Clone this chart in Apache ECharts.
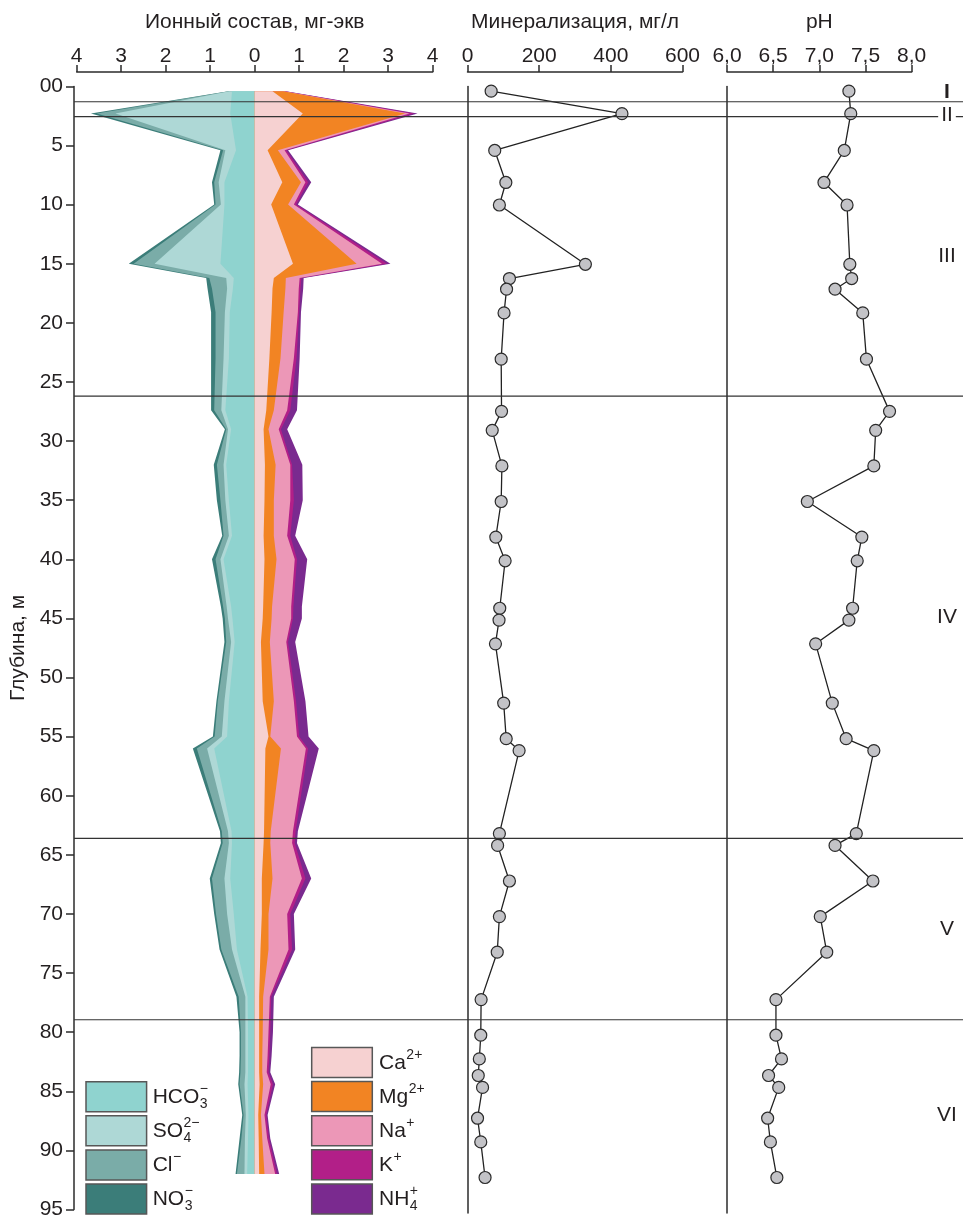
<!DOCTYPE html>
<html>
<head>
<meta charset="utf-8">
<script src="https://cdn.jsdelivr.net/npm/echarts@6/dist/echarts.min.js"></script>
<style>
  html, body { margin: 0; padding: 0; background: #ffffff; }
  #chart { width: 963px; height: 1220px; }
</style>
</head>
<body>
<div id="chart"></div>
<script>
// Sampling depths, m
const depth = [0.4, 2.3, 5.4, 8.1, 10, 15, 16.2, 17.1, 19.1, 23, 27.4, 29, 32, 35, 38, 40, 44, 45, 47, 52,
               55, 56, 63, 64, 67, 70, 73, 77, 80, 82, 83.4, 84.4, 87, 89, 92];

// Total mineralization, mg/L
const mineralization = [66, 431, 76, 107, 89, 329, 117, 109, 102, 94, 95, 69, 96, 94, 79, 105, 90, 88, 78, 101,
                        108, 144, 89, 84, 117, 89, 83, 38, 37, 33, 30, 42, 28, 37, 49];

// pH
const pH = [7.32, 7.34, 7.27, 7.05, 7.30, 7.33, 7.35, 7.17, 7.47, 7.51, 7.76, 7.61, 7.59, 6.87, 7.46, 7.41, 7.36, 7.32, 6.96, 7.14,
            7.29, 7.59, 7.40, 7.17, 7.58, 7.01, 7.08, 6.53, 6.53, 6.59, 6.45, 6.56, 6.44, 6.47, 6.54];

// Anions, mg-eq
const hco3 = [0.51, 0.55, 0.42, 0.68, 0.68, 0.77, 0.47, 0.49, 0.56, 0.58, 0.66, 0.53, 0.64, 0.58, 0.51, 0.70, 0.53, 0.50, 0.45, 0.58,
              0.62, 0.91, 0.52, 0.51, 0.55, 0.47, 0.40, 0.16, 0.15, 0.15, 0.15, 0.16, 0.14, 0.15, 0.17];
const so4  = [0.06, 2.58, 0.24, 0.13, 0.08, 1.48, 0.17, 0.13, 0.11, 0.12, 0.09, 0.07, 0.06, 0.08, 0.07, 0.07, 0.10, 0.10, 0.08, 0.10,
              0.12, 0.16, 0.08, 0.07, 0.13, 0.15, 0.11, 0.05, 0.06, 0.06, 0.06, 0.07, 0.06, 0.07, 0.06];
const cl   = [0.01, 0.42, 0.05, 0.10, 0.12, 0.47, 0.38, 0.34, 0.21, 0.18, 0.16, 0.04, 0.15, 0.11, 0.12, 0.11, 0.08, 0.07, 0.11, 0.15,
              0.16, 0.23, 0.14, 0.14, 0.28, 0.25, 0.24, 0.15, 0.10, 0.10, 0.11, 0.11, 0.05, 0.08, 0.17];
const no3  = [0.01, 0.13, 0.06, 0.05, 0.03, 0.11, 0.07, 0.10, 0.10, 0.10, 0.07, 0.03, 0.07, 0.08, 0.03, 0.08, 0.05, 0.05, 0.04, 0.03,
              0.04, 0.09, 0.04, 0.04, 0.05, 0.04, 0.04, 0.05, 0.03, 0.03, 0.03, 0.03, 0.03, 0.04, 0.03];

// Cations, mg-eq
const ca   = [0.40, 1.08, 0.29, 0.62, 0.37, 0.86, 0.43, 0.40, 0.38, 0.33, 0.26, 0.20, 0.23, 0.22, 0.20, 0.22, 0.19, 0.18, 0.14, 0.18,
              0.31, 0.24, 0.21, 0.20, 0.16, 0.16, 0.13, 0.10, 0.10, 0.10, 0.10, 0.11, 0.08, 0.09, 0.10];
const mg   = [0.24, 2.30, 0.23, 0.42, 0.38, 1.43, 0.27, 0.29, 0.27, 0.25, 0.17, 0.11, 0.24, 0.21, 0.23, 0.27, 0.20, 0.20, 0.20, 0.25,
              0.04, 0.35, 0.15, 0.15, 0.24, 0.15, 0.18, 0.09, 0.08, 0.07, 0.07, 0.08, 0.06, 0.08, 0.12];
const na   = [0.02, 0.10, 0.15, 0.10, 0.13, 0.57, 0.31, 0.30, 0.32, 0.30, 0.30, 0.23, 0.33, 0.37, 0.30, 0.41, 0.43, 0.44, 0.37, 0.45,
              0.60, 0.56, 0.50, 0.49, 0.66, 0.42, 0.45, 0.15, 0.13, 0.12, 0.10, 0.17, 0.08, 0.11, 0.24];
const k    = [0.02, 0.10, 0.04, 0.06, 0.05, 0.11, 0.04, 0.04, 0.03, 0.06, 0.07, 0.05, 0.04, 0.08, 0.07, 0.05, 0.05, 0.04, 0.04, 0.05,
              0.05, 0.05, 0.06, 0.06, 0.08, 0.07, 0.08, 0.03, 0.04, 0.04, 0.04, 0.05, 0.04, 0.04, 0.04];
const nh4  = [0.02, 0.08, 0.04, 0.07, 0.04, 0.08, 0.05, 0.06, 0.04, 0.07, 0.15, 0.14, 0.23, 0.20, 0.11, 0.23, 0.19, 0.20, 0.16, 0.21,
              0.21, 0.24, 0.05, 0.05, 0.13, 0.08, 0.07, 0.06, 0.06, 0.05, 0.04, 0.05, 0.03, 0.03, 0.05];

// Hydrochemical zones: boundaries (m), labels and label depths
const zoneBounds = [1.3, 2.55, 26.2, 63.6, 78.95];
const zoneNames = ['I', 'II', 'III', 'IV', 'V', 'VI'];
const zoneLabelDepth = [0.5, 2.45, 14.4, 44.9, 71.3, 87];

const FONT = '"Liberation Sans", Arial, Helvetica, sans-serif';
const INK = '#231f20';
const LINE = '#2b2b2b';

const anions = [
  { key: 'HCO3', values: hco3, color: '#8fd3cf', base: 'HCO', sub: '3', sup: '\u2212' },
  { key: 'SO4',  values: so4,  color: '#aed8d6', base: 'SO',  sub: '4', sup: '2\u2212' },
  { key: 'Cl',   values: cl,   color: '#7aaca8', base: 'Cl',  sub: '',  sup: '\u2212' },
  { key: 'NO3',  values: no3,  color: '#3b7d79', base: 'NO',  sub: '3', sup: '\u2212' }
];
const cations = [
  { key: 'Ca',  values: ca,  color: '#f6d1d1', base: 'Ca', sub: '',  sup: '2+' },
  { key: 'Mg',  values: mg,  color: '#f28423', base: 'Mg', sub: '',  sup: '2+' },
  { key: 'Na',  values: na,  color: '#ec97b7', base: 'Na', sub: '',  sup: '+' },
  { key: 'K',   values: k,   color: '#b21f88', base: 'K',  sub: '',  sup: '+' },
  { key: 'NH4', values: nh4, color: '#7a2a8f', base: 'NH', sub: '4', sup: '+' }
];

// Running totals, so each layer sits outside the previous one
function cumulate(layers, sign) {
  const run = depth.map(() => 0);
  return layers.map(layer => {
    layer.values.forEach((v, i) => { run[i] += v; });
    return run.map(v => sign * v);
  });
}
const anionCum = cumulate(anions, -1);
const cationCum = cumulate(cations, 1);

// Each layer is filled from the zero line out to its running total;
// inner layers are painted above outer ones.
function layerSeries(layer, cum, idx, count) {
  return {
    type: 'custom',
    name: layer.key,
    xAxisIndex: 0,
    yAxisIndex: 0,
    z: 2 + (count - idx),
    silent: true,
    encode: { x: 0, y: 1 },
    data: depth.map((d, i) => [cum[i], d]),
    renderItem: function (params, api) {
      if (params.dataIndex !== 0) return null;
      const pts = [api.coord([0, depth[0]])];
      for (let i = 0; i < depth.length; i++) pts.push(api.coord([cum[i], depth[i]]));
      pts.push(api.coord([0, depth[depth.length - 1]]));
      return { type: 'polygon', shape: { points: pts }, style: { fill: layer.color, stroke: null } };
    }
  };
}

const series = [];
anions.forEach((l, i) => series.push(layerSeries(l, anionCum[i], i, anions.length)));
cations.forEach((l, i) => series.push(layerSeries(l, cationCum[i], i, cations.length)));

const pointStyle = {
  symbol: 'circle',
  symbolSize: 12,
  itemStyle: { color: '#c3c3c7', borderColor: '#2b2b2b', borderWidth: 1.2 },
  lineStyle: { color: '#222', width: 1.3 },
  z: 20,
  silent: true,
  animation: false
};
series.push(Object.assign({
  type: 'line', name: 'Минерализация', xAxisIndex: 1, yAxisIndex: 1,
  data: depth.map((d, i) => [mineralization[i], d])
}, pointStyle));
series.push(Object.assign({
  type: 'line', name: 'pH', xAxisIndex: 2, yAxisIndex: 2,
  data: depth.map((d, i) => [pH[i], d])
}, pointStyle));

const TOP = 86.4, PLOT_H = 95 * 11.86;
const grids = [
  { left: 76.7, top: TOP, width: 356, height: PLOT_H },
  { left: 467.5, top: TOP, width: 215, height: PLOT_H },
  { left: 727, top: TOP, width: 184.7, height: PLOT_H }
];

function topAxis(gridIndex, name, min, max, interval, fmt) {
  return {
    type: 'value', gridIndex, position: 'top', offset: 14.5,
    min, max, interval,
    name, nameLocation: 'middle', nameGap: 39,
    nameTextStyle: { fontFamily: FONT, fontSize: 21, color: INK },
    axisLine: { show: true, onZero: false, lineStyle: { color: LINE, width: 1.5 } },
    axisTick: { show: true, inside: false, length: 7, lineStyle: { color: LINE, width: 1.5 } },
    axisLabel: { show: true, margin: 5, fontFamily: FONT, fontSize: 21, color: INK, formatter: fmt },
    splitLine: { show: false }
  };
}

const xAxes = [
  topAxis(0, 'Ионный состав, мг-экв', -4, 4, 1, v => String(Math.abs(v))),
  topAxis(1, 'Минерализация, мг/л', 0, 600, 200, v => String(v)),
  topAxis(2, 'pH', 6, 8, 0.5, v => v.toFixed(1).replace('.', ','))
];

function plainDepthAxis(gridIndex) {
  return {
    type: 'value', gridIndex, inverse: true, min: 0, max: 95,
    axisLine: { show: true, onZero: false, lineStyle: { color: LINE, width: 1.5 } },
    axisTick: { show: false }, axisLabel: { show: false }, splitLine: { show: false }
  };
}

const yAxes = [
  {
    type: 'value', gridIndex: 0, inverse: true, min: 0, max: 95, interval: 5, offset: 2.7,
    name: 'Глубина, м', nameLocation: 'middle', nameGap: 45,
    nameTextStyle: { fontFamily: FONT, fontSize: 21, color: INK },
    axisLine: { show: true, onZero: false, lineStyle: { color: LINE, width: 1.5 } },
    axisTick: { show: true, inside: false, length: 8, lineStyle: { color: LINE, width: 1.5 } },
    axisLabel: { margin: 11, fontFamily: FONT, fontSize: 21, color: INK, formatter: v => (v === 0 ? '00' : String(v)) },
    splitLine: { show: false }
  },
  plainDepthAxis(1),
  plainDepthAxis(2)
];

const chart = echarts.init(document.getElementById('chart'), null, { renderer: 'canvas' });
chart.setOption({
  backgroundColor: '#ffffff',
  animation: false,
  grid: grids,
  xAxis: xAxes,
  yAxis: yAxes,
  series: series
});

// ---- Zone boundaries, zone numerals and the legend ----
const measureCtx = document.createElement('canvas').getContext('2d');
function textWidth(str, size) {
  measureCtx.font = size + 'px ' + FONT;
  return measureCtx.measureText(str).width;
}

const AXIS_X = 74, RIGHT_X = 963, ZONE_LABEL_X = 947;
const graphics = [];

zoneBounds.forEach(d => {
  const y = chart.convertToPixel({ yAxisIndex: 0 }, d);
  graphics.push({
    type: 'line', z: 30, silent: true,
    shape: { x1: AXIS_X, y1: y, x2: RIGHT_X, y2: y },
    style: { stroke: '#333', lineWidth: 1.2 }
  });
});

zoneNames.forEach((name, i) => {
  const y = chart.convertToPixel({ yAxisIndex: 0 }, zoneLabelDepth[i]);
  graphics.push({
    type: 'text', z: 40, silent: true, x: ZONE_LABEL_X, y: y,
    style: {
      text: name, fontFamily: FONT, fontSize: 21, fontWeight: i === 0 ? 'bold' : 'normal', fill: INK,
      align: 'center', verticalAlign: 'middle', textAlign: 'center', textVerticalAlign: 'middle',
      backgroundColor: i === 1 ? '#ffffff' : null, padding: i === 1 ? [0, 3] : 0
    }
  });
});

const BOX_W = 60.6, BOX_H = 30, STEP = 34.1, MAIN = 21, SMALL = 14;
function legendColumn(items, boxX, firstY, textX) {
  items.forEach((it, i) => {
    const y0 = firstY + i * STEP;
    const yc = y0 + BOX_H / 2 + 0.5;
    graphics.push({
      type: 'rect', z: 30, silent: true,
      shape: { x: boxX, y: y0, width: BOX_W, height: BOX_H },
      style: { fill: it.color, stroke: '#575757', lineWidth: 1.5 }
    });
    const txt = (s, x, y, size) => ({
      type: 'text', z: 31, silent: true, x: x, y: y,
      style: { text: s, fontFamily: FONT, fontSize: size, fill: INK,
               align: 'left', verticalAlign: 'middle', textAlign: 'left', textVerticalAlign: 'middle' }
    });
    graphics.push(txt(it.base, textX, yc, MAIN));
    const sx = textX + textWidth(it.base, MAIN) + 0.5;
    if (it.sub) graphics.push(txt(it.sub, sx, yc + 7, SMALL));
    if (it.sup) graphics.push(txt(it.sup, sx, yc - 8, SMALL));
  });
}
legendColumn(anions, 86, 1081.7, 152.7);
legendColumn(cations, 311.7, 1047.5, 379);

chart.setOption({ graphic: { elements: graphics } });
</script>
</body>
</html>
